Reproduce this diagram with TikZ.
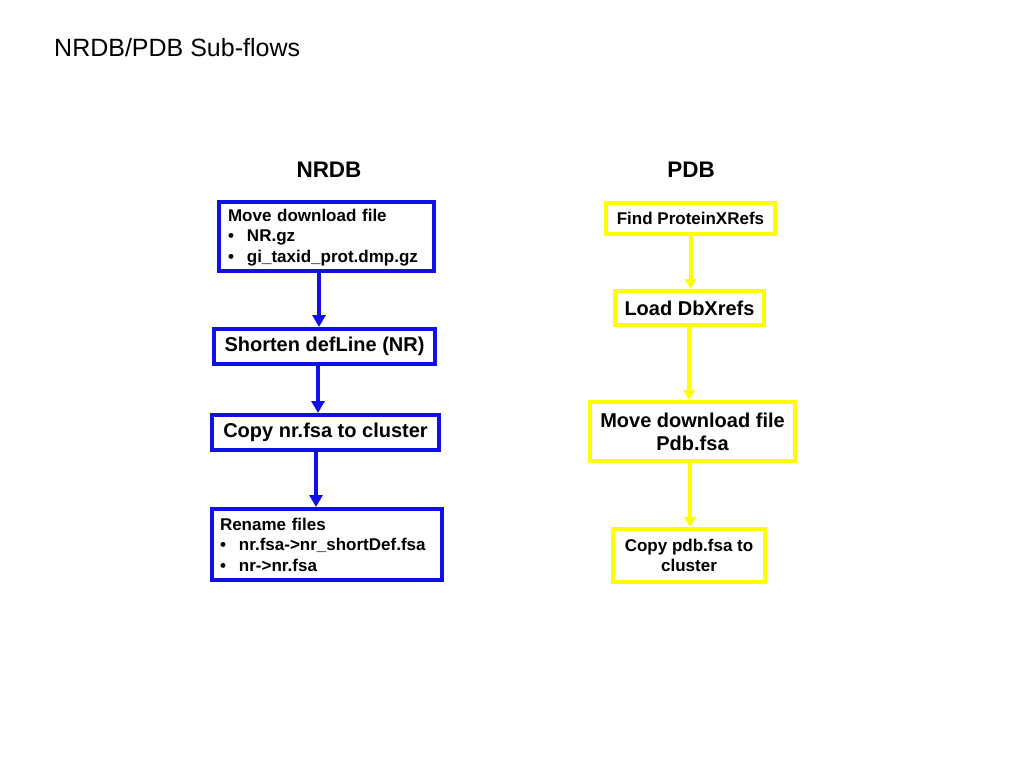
\documentclass[tikz,border=0pt]{standalone}
\usepackage{fontspec}
\setmainfont{Liberation Sans}
\usetikzlibrary{arrows.meta}
\definecolor{nblue}{RGB}{16,16,232}
\definecolor{pyel}{RGB}{255,255,0}
\begin{document}
\begin{tikzpicture}[x=1pt,y=-1pt,
  bbox/.style={draw=nblue, line width=4pt, fill=white, inner xsep=8pt, inner ysep=0pt},
  ybox/.style={draw=pyel, line width=4pt, fill=white, inner xsep=4pt, inner ysep=0pt},
  barrow/.style={draw=nblue, line width=3.5pt, -{Triangle[length=12pt,width=13pt]}},
  yarrow/.style={draw=pyel, line width=4pt, -{Triangle[length=10pt,width=11pt]}},
  ttl/.style={font=\fontsize{22.5}{26}\selectfont\bfseries},
  fs/.style={font=\fontsize{17}{20.5}\selectfont\bfseries},
  fl/.style={font=\fontsize{20}{23}\selectfont\bfseries},
  fm/.style={font=\fontsize{17}{20}\selectfont\bfseries}]
\useasboundingbox (0,0) rectangle (1024,768);
\newcommand{\blt}[1]{\makebox[19pt][l]{\textbullet}#1}

\node[anchor=west, font=\fontsize{25}{28}\selectfont, inner sep=0pt] (title) at (54,48) {NRDB/PDB Sub-flows};
\node[ttl] (hn) at (329,170) {NRDB};
\node[ttl] (hp) at (691,170) {PDB};

\node[bbox, fs, minimum width=215pt, minimum height=69pt, text width=197pt, align=left] (n1) at (326.5,236.5)
  {\rule{0pt}{14pt}Move download file\\ \blt{NR.gz}\\ \blt{gi\_taxid\_prot.dmp.gz}};
\node[bbox, fl, minimum width=221pt, minimum height=35pt] (n2) at (324.5,346.5) {Shorten defLine (NR)};
\node[bbox, fl, minimum width=227pt, minimum height=35pt] (n3) at (325.5,432.5) {Copy nr.fsa to cluster};
\node[bbox, fs, minimum width=230pt, minimum height=71pt, text width=214pt, align=left] (n4) at (327,544.5)
  {Rename files\\ \blt{nr.fsa->nr\_shortDef.fsa}\\ \blt{nr->nr.fsa}};

\node[ybox, fs, minimum width=169pt, minimum height=31pt] (p1) at (690.5,218.5) {Find ProteinXRefs};
\node[ybox, fl, minimum width=149pt, minimum height=34pt] (p2) at (689.5,308) {Load DbXrefs};
\node[ybox, fl, minimum width=205pt, minimum height=59pt, align=center] (p3) at (692.5,431.5) {Move download file\\Pdb.fsa};
\node[ybox, fm, minimum width=152pt, minimum height=53pt, align=center] (p4) at (689,555.5) {Copy pdb.fsa to\\cluster};

\draw[barrow] ([xshift=-7.5pt]n1.south) -- ([xshift=-7.5pt]n1.south |- n2.north);
\draw[barrow] ([xshift=-6.5pt]n2.south) -- ([xshift=-6.5pt]n2.south |- n3.north);
\draw[barrow] ([xshift=-9.5pt]n3.south) -- ([xshift=-9.5pt]n3.south |- n4.north);

\draw[yarrow] (p1.south) -- (p1.south |- p2.north);
\draw[yarrow] ([xshift=-0.5pt]p2.south) -- ([xshift=-0.5pt]p2.south |- p3.north);
\draw[yarrow] ([xshift=-2.5pt]p3.south) -- ([xshift=-2.5pt]p3.south |- p4.north);
\end{tikzpicture}
\end{document}
